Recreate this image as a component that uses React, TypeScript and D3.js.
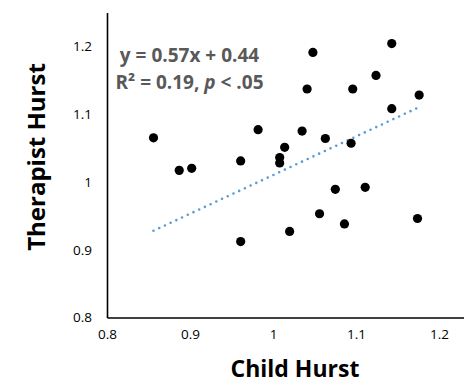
import React, { useEffect, useRef } from 'react';
import * as d3 from 'd3';

// child hurst (x) vs therapist hurst (y)
const childHurst = [0.856, 0.887, 0.902, 0.961, 0.961, 0.982, 1.008, 1.008, 1.014, 1.020, 1.035, 1.041, 1.048, 1.063, 1.056, 1.075, 1.086, 1.094, 1.096, 1.111, 1.124, 1.143, 1.143, 1.174, 1.176];
const therapistHurst = [1.065, 1.017, 1.020, 1.031, 0.912, 1.077, 1.036, 1.028, 1.051, 0.927, 1.075, 1.137, 1.191, 1.064, 0.953, 0.989, 0.938, 1.057, 1.137, 0.992, 1.157, 1.204, 1.108, 0.946, 1.128];
const xTicks = [0.8, 0.9, 1, 1.1, 1.2];
const yTicks = [0.8, 0.9, 1, 1.1, 1.2];
const slope = 0.57;
const intercept = 0.44;

const W = 464;
const H = 384;
const FONT = "'Open Sans', sans-serif";

const App = () => {
  const ref = useRef<SVGSVGElement>(null);

  useEffect(() => {
    const svg = d3.select(ref.current);
    svg.selectAll('*').remove();

    const x = d3.scaleLinear().domain([0.8, 1.23]).range([107, 464]);
    const y = d3.scaleLinear().domain([0.8, 1.25]).range([317.5, 12.4]);

    // axes
    const xAxis = d3.axisBottom(x).tickValues(xTicks).tickSize(0).tickPadding(12)
      .tickFormat(d => d3.format('')(+d));
    const yAxis = d3.axisLeft(y).tickValues(yTicks).tickSize(0).tickPadding(15)
      .tickFormat(d => d3.format('')(+d));

    const gx = svg.append('g').attr('transform', `translate(0,${y(0.8)})`).call(xAxis);
    const gy = svg.append('g').attr('transform', `translate(${x(0.8)},0)`).call(yAxis);
    [gx, gy].forEach(g => {
      g.select('.domain').attr('stroke', '#000').attr('stroke-width', 1.6);
      g.selectAll('text').attr('font-family', FONT).attr('font-size', 13.5).attr('fill', '#000');
    });

    // trend line
    const xMin = d3.min(childHurst) as number;
    const xMax = d3.max(childHurst) as number;
    svg.append('line')
      .attr('x1', x(xMin)).attr('y1', y(slope * xMin + intercept))
      .attr('x2', x(xMax)).attr('y2', y(slope * xMax + intercept))
      .attr('stroke', '#5B9BD5')
      .attr('stroke-width', 2.6)
      .attr('stroke-linecap', 'round')
      .attr('stroke-dasharray', '0 6.3');

    // points
    svg.append('g').selectAll('circle')
      .data(childHurst)
      .enter()
      .append('circle')
      .attr('cx', d => x(d))
      .attr('cy', (d, i) => y(therapistHurst[i]))
      .attr('r', 4.6)
      .attr('fill', '#000');

    // equation
    const eq = svg.append('g')
      .attr('font-family', FONT)
      .attr('font-weight', 'bold')
      .attr('font-size', 19)
      .attr('fill', '#595959')
      .attr('text-anchor', 'middle');
    eq.append('text').attr('x', 189.5).attr('y', 62).text('y = 0.57x + 0.44');
    const t2 = eq.append('text').attr('x', 189.5).attr('y', 89);
    t2.append('tspan').text('R² = 0.19, ');
    t2.append('tspan').attr('font-style', 'italic').text('p');
    t2.append('tspan').text(' < .05');

    // axis titles
    svg.append('text')
      .text('Child Hurst')
      .attr('font-family', FONT)
      .attr('font-weight', 'bold')
      .attr('font-size', 23)
      .attr('text-anchor', 'middle')
      .attr('x', 295)
      .attr('y', 377);

    svg.append('text')
      .text('Therapist Hurst')
      .attr('font-family', FONT)
      .attr('font-weight', 'bold')
      .attr('font-size', 24)
      .attr('text-anchor', 'middle')
      .attr('transform', 'translate(45,157) rotate(-90)');
  }, []);

  return (
    <svg ref={ref} width={W} height={H}
      style={{ position: 'absolute', left: 0, top: 0, background: '#fff' }} />
  );
};

export default App;
